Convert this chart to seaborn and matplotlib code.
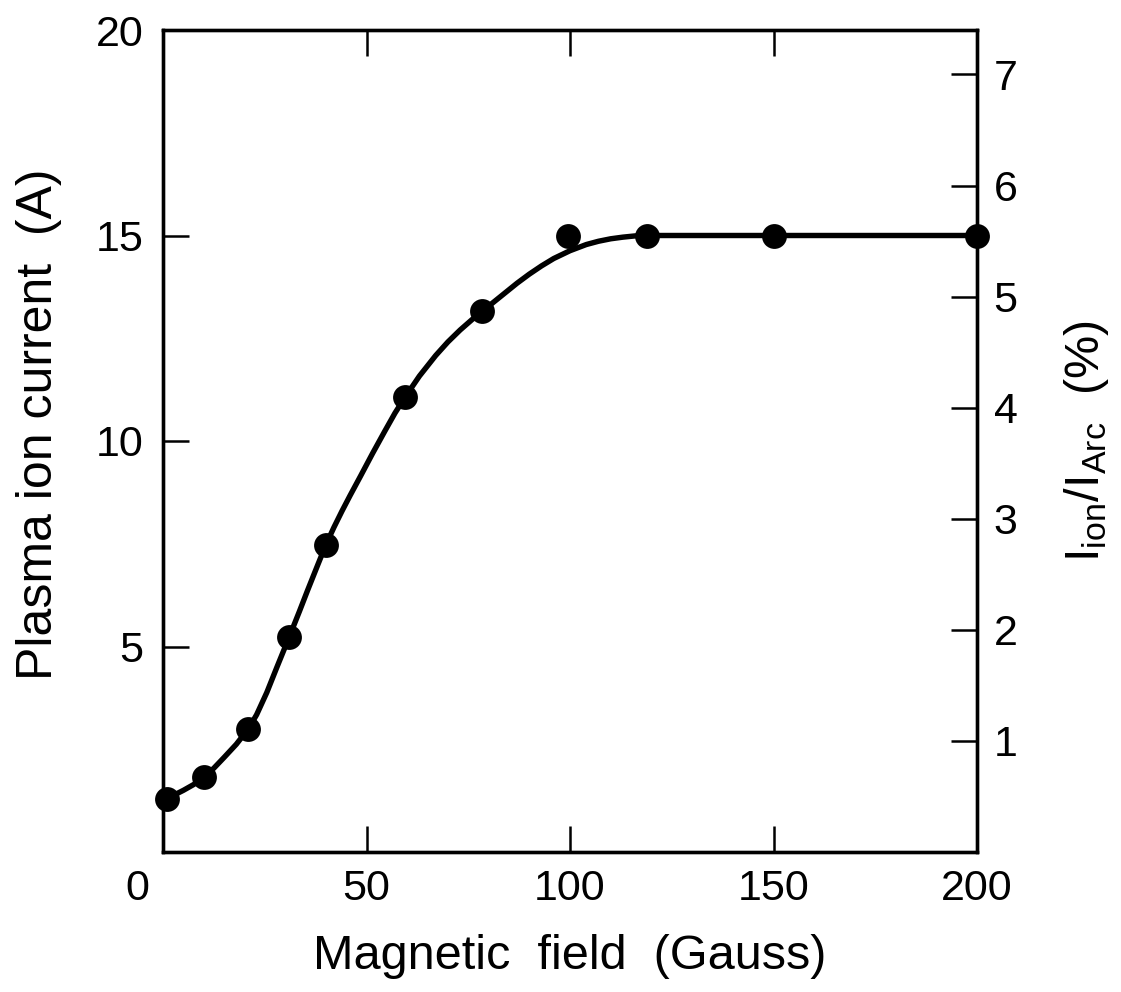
import matplotlib
matplotlib.use("Agg")
import matplotlib.pyplot as plt
import seaborn as sns
from matplotlib.transforms import ScaledTranslation

# Measured data points
field = [1, 10, 21, 31, 40, 59.5, 78.5, 99.5, 119, 150, 200]
current = [1.3, 1.82, 3.0, 5.23, 7.47, 11.07, 13.16, 15.0, 15.0, 15.0, 15.0]

# Smooth fitted curve
curve_x = [1, 3, 5, 7.5, 10, 12.5, 15, 18, 21, 23, 25.5, 28, 31, 33.5, 35.5, 38, 40,
           42, 44, 46, 48.5, 51.5, 54.5, 57, 59.5, 63, 67, 70, 73, 76, 78.5, 82, 87,
           90, 93, 96, 100, 104, 107, 110, 113, 116, 119, 150, 200]
curve_y = [1.3, 1.4, 1.5, 1.64, 1.82, 2.04, 2.3, 2.62, 3.0, 3.34, 3.88, 4.5, 5.23,
           5.85, 6.36, 6.98, 7.47, 7.9, 8.3, 8.68, 9.14, 9.7, 10.24, 10.68, 11.07,
           11.58, 12.08, 12.41, 12.7, 12.96, 13.16, 13.44, 13.84, 14.06, 14.26, 14.44,
           14.63, 14.78, 14.86, 14.92, 14.96, 14.99, 15.0, 15.0, 15.0]

x_ticks = [0, 50, 100, 150, 200]
left_ticks = [5, 10, 15, 20]
right_ticks = [1, 2, 3, 4, 5, 6, 7]

sns.set_style("white")
plt.rcParams['font.family'] = ['Liberation Sans', 'DejaVu Sans']
plt.rcParams['mathtext.fontset'] = 'custom'
plt.rcParams['mathtext.rm'] = 'Liberation Sans'
plt.rcParams['mathtext.it'] = 'Liberation Sans'
for k in ['text.color', 'axes.labelcolor', 'xtick.color', 'ytick.color', 'axes.edgecolor']:
    plt.rcParams[k] = 'black'

fig = plt.figure(figsize=(11.21, 9.92), dpi=100)
ax = fig.add_axes([163/1121, 1 - 852/992, (977-163)/1121, (852-30)/992])

sns.lineplot(x=curve_x, y=curve_y, ax=ax, color='black', linewidth=3.9, zorder=2)
sns.scatterplot(x=field, y=current, ax=ax, s=320, color='black', edgecolor='black',
                linewidth=0, zorder=3, clip_on=False)

ax.set_xlim(0, 200)
ax.set_ylim(0, 20)
ax.set_xticks(x_ticks)
ax.set_xticklabels([str(v) for v in x_ticks])
ax.set_yticks(left_ticks)
ax.set_yticklabels([str(v) for v in left_ticks])

for sp in ax.spines.values():
    sp.set_linewidth(2.4)
    sp.set_color('black')
    sp.set_visible(True)

ax.tick_params(axis='x', which='both', direction='in', length=19, width=1.8,
               top=True, bottom=True, labelsize=31, pad=12, colors='black')
ax.tick_params(axis='y', which='both', direction='in', length=19, width=1.8,
               left=True, right=False, labelsize=31, pad=14, colors='black')

# shift "0" label slightly left as in the original
lbl0 = ax.get_xticklabels()[0]
lbl0.set_transform(lbl0.get_transform() + ScaledTranslation(-0.26, 0, fig.dpi_scale_trans))

ax.set_xlabel('Magnetic  field  (Gauss)', fontsize=35, color='black')
ax.set_ylabel('Plasma ion current  (A)', fontsize=36, color='black')
ax.xaxis.set_label_coords(0.5, -0.10)
ax.yaxis.set_label_coords(-0.124, 0.52)

ax2 = ax.twinx()
ax2.set_ylim(0, 7.4)
ax2.set_yticks(right_ticks)
ax2.set_yticklabels([str(v) for v in right_ticks])
ax2.tick_params(axis='y', direction='in', length=19, width=1.8, labelsize=31, pad=12,
                colors='black')
for sp in ax2.spines.values():
    sp.set_linewidth(2.4)
    sp.set_color('black')
ax2.set_ylabel(r'$\mathregular{I_{ion}/I_{Arc}}$  (%)', fontsize=35, color='black')
ax2.yaxis.set_label_coords(1.105, 0.5)

fig.savefig('out.png', dpi=100, facecolor='white')
